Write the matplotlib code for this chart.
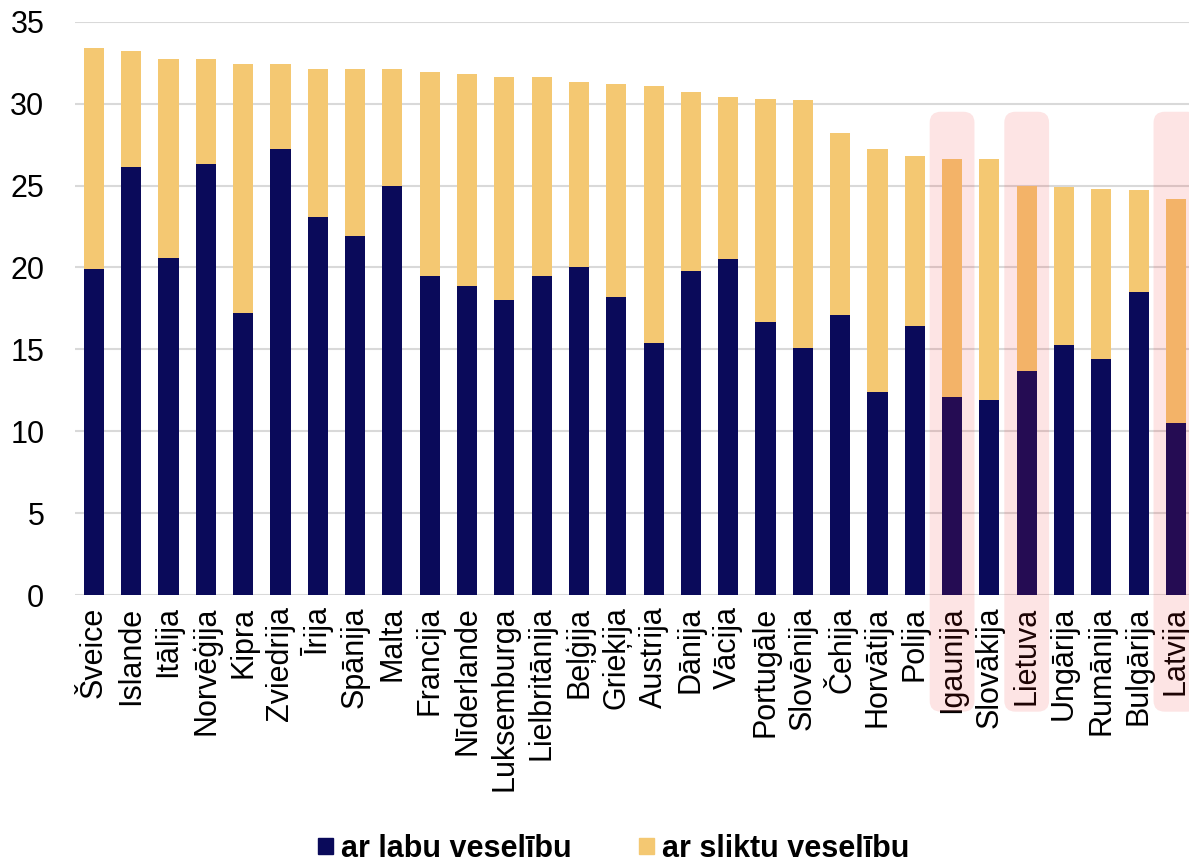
import matplotlib.pyplot as plt
from matplotlib.patches import FancyBboxPatch, Rectangle

plt.rcParams['font.family'] = ['Liberation Sans', 'DejaVu Sans']

countries = ['Šveice', 'Islande', 'Itālija', 'Norvēģija', 'Kipra', 'Zviedrija', 'Īrija',
             'Spānija', 'Malta', 'Francija', 'Nīderlande', 'Luksemburga', 'Lielbritānija',
             'Beļģija', 'Grieķija', 'Austrija', 'Dānija', 'Vācija', 'Portugāle', 'Slovēnija',
             'Čehija', 'Horvātija', 'Polija', 'Igaunija', 'Slovākija', 'Lietuva', 'Ungārija',
             'Rumānija', 'Bulgārija', 'Latvija']
total = [33.4, 33.2, 32.7, 32.7, 32.4, 32.4, 32.1, 32.1, 32.1, 31.9, 31.8, 31.6, 31.6,
         31.3, 31.2, 31.1, 30.7, 30.4, 30.3, 30.2, 28.2, 27.2, 26.8, 26.6, 26.6, 25.0,
         24.9, 24.8, 24.7, 24.2]
good = [19.9, 26.1, 20.6, 26.3, 17.2, 27.2, 23.1, 21.9, 25.0, 19.5, 18.9, 18.0, 19.5,
        20.0, 18.2, 15.4, 19.8, 20.5, 16.7, 15.1, 17.1, 12.4, 16.4, 12.1, 11.9, 13.7,
        15.3, 14.4, 18.5, 10.5]
bad = [t - g for t, g in zip(total, good)]
highlight = ['Igaunija', 'Lietuva', 'Latvija']

navy = '#0A0A5A'
yellow = '#F4C872'

fig = plt.figure(figsize=(11.89, 8.64), dpi=100)
ax = fig.add_axes([0.063, 0.311, 0.937, 0.664])

x = list(range(len(countries)))
ax.bar(x, good, width=0.54, color=navy, zorder=2)
ax.bar(x, bad, width=0.54, bottom=good, color=yellow, zorder=2)

ax.set_ylim(0, 35)
ax.set_xlim(-0.51, 29.35)
ax.set_yticks(range(0, 36, 5))
ax.set_xticks(x)
ax.set_xticklabels(countries, rotation=90, fontsize=22)
ax.tick_params(axis='y', labelsize=22, length=0, pad=22)
ax.tick_params(axis='x', length=0, pad=8)
ax.grid(axis='y', color='#D9D9D9', linewidth=1.5, zorder=0)
for s in ax.spines.values():
    s.set_visible(False)

# pink boxes behind the Baltic countries
for name in highlight:
    i = countries.index(name)
    box = FancyBboxPatch((i - 0.6, -7.1), 1.2, 36.6,
                         boxstyle='round,pad=0,rounding_size=0.3', mutation_aspect=2.2,
                         facecolor='#EF2121', alpha=0.12, edgecolor='none',
                         clip_on=False, zorder=3)
    ax.add_patch(box)

handles = [Rectangle((0, 0), 1, 1, color=navy), Rectangle((0, 0), 1, 1, color=yellow)]
leg = fig.legend(handles, ['ar labu veselību', 'ar sliktu veselību'], loc='lower center',
                 bbox_to_anchor=(0.516, -0.032), ncol=2, frameon=False,
                 handlelength=0.5, handleheight=0.45, handletextpad=0.25, columnspacing=2.2,
                 prop={'size': 22, 'weight': 'bold'})

plt.savefig('out.png')
